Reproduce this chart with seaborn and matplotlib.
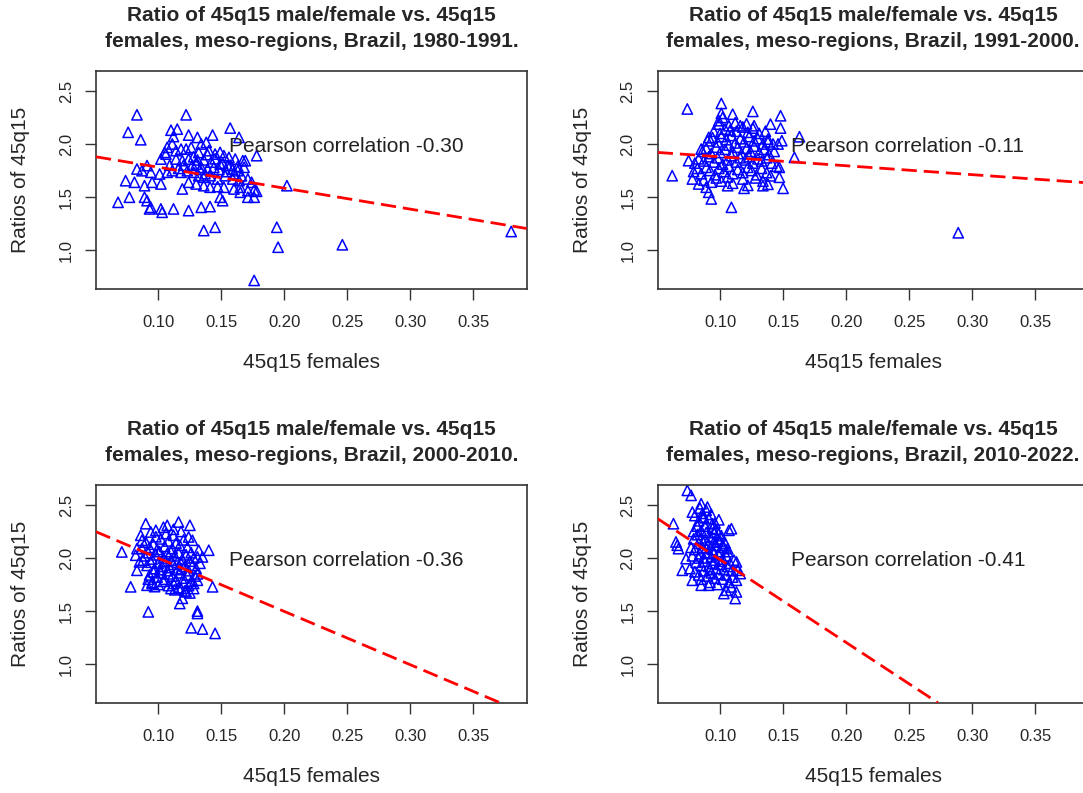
import matplotlib
matplotlib.use("Agg")
import matplotlib.pyplot as plt
import seaborn as sns
import pandas as pd

# 45q15 of females (x) and ratio of 45q15 male/female (y), one point per meso-region
x_1980 = [0.083, 0.122, 0.076, 0.086, 0.157, 0.110, 0.115, 0.112, 0.124, 0.143, 0.164, 0.131, 0.178,
          0.107, 0.111, 0.105, 0.106, 0.102, 0.114, 0.118, 0.122, 0.126, 0.134, 0.138, 0.140, 0.145, 0.149, 0.152, 0.156, 0.161, 0.167, 0.169,
          0.114, 0.119, 0.124, 0.130, 0.134, 0.139, 0.144, 0.149, 0.155, 0.159, 0.163, 0.168,
          0.083, 0.087, 0.091, 0.094, 0.101, 0.107, 0.111, 0.118, 0.123, 0.128, 0.132, 0.136, 0.141, 0.147, 0.153, 0.159, 0.164, 0.171, 0.174,
          0.074, 0.081, 0.089, 0.095, 0.102, 0.119, 0.124, 0.130, 0.136, 0.141, 0.147, 0.152, 0.160, 0.165, 0.171, 0.176, 0.178,
          0.068, 0.077, 0.089, 0.091, 0.094, 0.093, 0.102, 0.103, 0.112, 0.124, 0.134, 0.141, 0.149, 0.151, 0.165, 0.171, 0.176,
          0.136, 0.145, 0.194, 0.195, 0.176, 0.202, 0.246, 0.380,
          0.128, 0.132, 0.136, 0.139, 0.142, 0.145, 0.148, 0.151, 0.154, 0.157, 0.133, 0.137, 0.160, 0.163, 0.166, 0.131, 0.127, 0.120, 0.116, 0.109]
y_1980 = [2.275, 2.275, 2.110, 2.040, 2.150, 2.130, 2.140, 2.070, 2.084, 2.084, 2.062, 2.062, 1.890,
          1.968, 2.000, 1.921, 1.905, 1.858, 1.937, 1.952, 1.952, 1.968, 2.000, 2.015, 1.937, 1.905, 1.921, 1.890, 1.874, 1.858, 1.843, 1.843,
          1.858, 1.843, 1.858, 1.811, 1.780, 1.764, 1.780, 1.811, 1.796, 1.764, 1.748, 1.780,
          1.764, 1.748, 1.796, 1.733, 1.717, 1.733, 1.748, 1.733, 1.748, 1.733, 1.701, 1.686, 1.701, 1.670, 1.701, 1.670, 1.654, 1.670, 1.639,
          1.654, 1.639, 1.607, 1.639, 1.623, 1.576, 1.639, 1.623, 1.607, 1.592, 1.598, 1.592, 1.576, 1.592, 1.560, 1.567, 1.554,
          1.450, 1.498, 1.498, 1.466, 1.403, 1.388, 1.388, 1.356, 1.388, 1.372, 1.403, 1.410, 1.498, 1.466, 1.545, 1.498, 1.498,
          1.184, 1.215, 1.215, 1.027, 0.714, 1.607, 1.050, 1.175,
          1.880, 1.920, 1.850, 1.900, 1.830, 1.860, 1.760, 1.820, 1.740, 1.800, 1.760, 1.720, 1.720, 1.790, 1.700, 1.850, 1.800, 1.800, 1.770, 1.800]

x_1991 = [0.074, 0.101, 0.101, 0.110, 0.126, 0.148, 0.140, 0.148, 0.149, 0.163, 0.159, 0.062, 0.075, 0.085, 0.091, 0.099,
          0.107, 0.116, 0.127, 0.138, 0.147, 0.147, 0.150, 0.134, 0.119, 0.106, 0.093, 0.091, 0.109, 0.078, 0.083, 0.089,
          0.095, 0.100, 0.104, 0.108, 0.113, 0.118, 0.122, 0.126, 0.131, 0.136, 0.099, 0.102, 0.112, 0.121,
          0.090, 0.094, 0.098, 0.101, 0.105, 0.109, 0.112, 0.116, 0.119, 0.123, 0.127, 0.130, 0.134, 0.138, 0.142, 0.146,
          0.086, 0.089, 0.093, 0.097, 0.100, 0.104, 0.107, 0.110, 0.114, 0.117, 0.121, 0.124, 0.127, 0.131, 0.135, 0.139, 0.143,
          0.080, 0.083, 0.087, 0.091, 0.095, 0.098, 0.102, 0.106, 0.109, 0.113, 0.116, 0.120, 0.123, 0.126, 0.130, 0.133, 0.137, 0.141, 0.145,
          0.079, 0.082, 0.085, 0.089, 0.092, 0.096, 0.099, 0.103, 0.107, 0.110, 0.114, 0.118, 0.122, 0.125, 0.129, 0.133, 0.137, 0.140,
          0.087, 0.093, 0.097, 0.101, 0.106, 0.110, 0.118, 0.122, 0.128, 0.134, 0.138,
          0.289]
y_1991 = [2.330, 2.382, 2.288, 2.281, 2.307, 2.266, 2.187, 2.150, 2.031, 2.068, 1.874, 1.701, 1.843, 1.952, 2.062, 2.187,
          2.172, 2.172, 2.172, 2.046, 1.780, 1.686, 1.582, 1.607, 1.582, 1.607, 1.482, 1.545, 1.403, 1.670, 1.623, 1.592,
          2.120, 2.100, 2.140, 2.130, 2.120, 2.160, 2.110, 2.150, 2.100, 2.120, 2.220, 2.250, 2.200, 2.190,
          2.030, 2.060, 2.020, 2.070, 2.040, 2.080, 2.010, 2.050, 2.020, 2.070, 2.030, 2.050, 2.000, 2.020, 2.000, 2.000,
          1.930, 1.960, 1.910, 1.970, 1.920, 1.950, 1.990, 1.930, 1.970, 1.910, 1.960, 1.930, 1.980, 1.920, 1.950, 1.900, 1.930,
          1.820, 1.860, 1.840, 1.880, 1.830, 1.870, 1.810, 1.850, 1.890, 1.830, 1.870, 1.850, 1.880, 1.820, 1.860, 1.840, 1.870, 1.820, 1.790,
          1.740, 1.770, 1.720, 1.780, 1.750, 1.710, 1.770, 1.740, 1.790, 1.720, 1.760, 1.730, 1.780, 1.750, 1.710, 1.770, 1.730, 1.700,
          1.660, 1.640, 1.680, 1.650, 1.690, 1.630, 1.670, 1.610, 1.680, 1.650, 1.620,
          1.163]

x_2000 = [0.071, 0.078, 0.092, 0.116, 0.107, 0.125, 0.090, 0.098, 0.112, 0.124, 0.127, 0.140, 0.132, 0.135, 0.131, 0.143, 0.131, 0.128,
          0.117, 0.131, 0.131, 0.126, 0.135, 0.145, 0.122, 0.118, 0.110, 0.095, 0.091, 0.083, 0.085, 0.087, 0.086, 0.094, 0.083, 0.082,
          0.090, 0.093, 0.096, 0.099, 0.102, 0.105, 0.108, 0.111, 0.114, 0.117, 0.120, 0.123, 0.126,
          0.089, 0.092, 0.095, 0.098, 0.101, 0.104, 0.107, 0.110, 0.113, 0.116, 0.119, 0.122, 0.125, 0.128,
          0.091, 0.094, 0.097, 0.100, 0.103, 0.106, 0.109, 0.112, 0.115, 0.118, 0.121, 0.124, 0.127, 0.130,
          0.093, 0.096, 0.099, 0.102, 0.105, 0.108, 0.111, 0.114, 0.117, 0.120, 0.123, 0.126, 0.129,
          0.095, 0.100, 0.104, 0.108, 0.112, 0.116, 0.120, 0.124, 0.128,
          0.098, 0.106, 0.112, 0.104, 0.118,
          0.092, 0.097, 0.113, 0.121, 0.125, 0.119, 0.131, 0.133, 0.088, 0.087, 0.101, 0.110, 0.115, 0.107, 0.118]
y_2000 = [2.057, 1.728, 1.492, 2.339, 2.308, 2.308, 2.323, 2.261, 2.214, 2.198, 2.167, 2.073, 2.073, 2.010, 2.010, 1.728, 1.790, 1.712,
          1.571, 1.477, 1.499, 1.342, 1.330, 1.289, 1.681, 1.712, 1.712, 1.759, 1.743, 1.884, 1.963, 2.167, 2.214, 2.245, 2.088, 2.026,
          2.150, 2.100, 2.130, 2.080, 2.180, 2.110, 2.160, 2.090, 2.140, 2.120, 2.170, 2.100, 2.050,
          2.020, 2.050, 1.990, 2.030, 2.060, 2.000, 2.040, 1.980, 2.020, 2.050, 1.990, 2.030, 1.970, 2.000,
          1.930, 1.960, 1.900, 1.950, 1.920, 1.970, 1.910, 1.940, 1.890, 1.950, 1.920, 1.880, 1.930, 1.900,
          1.840, 1.870, 1.820, 1.860, 1.800, 1.850, 1.830, 1.790, 1.860, 1.810, 1.840, 1.780, 1.830,
          1.770, 1.750, 1.780, 1.740, 1.760, 1.720, 1.770, 1.740, 1.760,
          2.200, 2.230, 2.270, 2.290, 2.250,
          1.800, 1.730, 1.700, 1.690, 1.670, 1.620, 1.850, 1.950, 1.980, 2.090, 1.890, 2.060, 1.960, 1.880, 1.900]

x_2010 = [0.074, 0.077, 0.063, 0.065, 0.067, 0.066, 0.107, 0.109, 0.106, 0.113, 0.114, 0.113, 0.112, 0.109, 0.105, 0.103,
          0.091, 0.085, 0.078, 0.070, 0.073, 0.085, 0.090, 0.078, 0.086, 0.094, 0.099, 0.102, 0.116,
          0.080, 0.083, 0.086, 0.088, 0.091, 0.094, 0.096, 0.085, 0.082, 0.089, 0.092, 0.095, 0.098, 0.101, 0.079, 0.083,
          0.086, 0.088, 0.091, 0.094, 0.097, 0.100, 0.103, 0.080, 0.084, 0.087, 0.090, 0.093, 0.096, 0.099, 0.102, 0.105,
          0.108, 0.078, 0.081, 0.085, 0.088, 0.091, 0.094, 0.097, 0.100, 0.103, 0.106, 0.109, 0.076, 0.080, 0.083, 0.087,
          0.090, 0.093, 0.096, 0.099, 0.102, 0.105, 0.110, 0.113, 0.085, 0.092, 0.098, 0.107, 0.089, 0.087, 0.093, 0.082,
          0.097, 0.099, 0.084, 0.095, 0.085, 0.104, 0.106, 0.111, 0.077, 0.079, 0.101, 0.092, 0.095, 0.089, 0.100, 0.083]
y_2010 = [2.637, 2.590, 2.323, 2.151, 2.088, 2.120, 2.261, 2.276, 2.088, 1.963, 1.884, 1.680, 1.618, 1.727, 1.696, 1.665,
          1.743, 1.743, 1.790, 1.884, 1.994, 2.511, 2.480, 2.433, 2.386, 2.323, 2.229, 2.120, 1.853,
          2.400, 2.350, 2.420, 2.300, 2.370, 2.280, 2.330, 2.260, 2.220, 2.240, 2.200, 2.240, 2.180, 2.210, 2.180, 2.140,
          2.100, 2.170, 2.130, 2.080, 2.120, 2.060, 2.100, 2.080, 2.040, 2.000, 2.050, 2.010, 1.980, 2.030, 1.990, 2.020,
          1.950, 2.020, 1.960, 1.930, 1.970, 1.920, 1.950, 1.900, 1.940, 1.890, 1.920, 1.880, 1.900, 1.870, 1.840, 1.880,
          1.830, 1.860, 1.810, 1.850, 1.800, 1.840, 1.820, 1.790, 1.800, 1.770, 1.750, 1.770, 2.450, 2.380, 2.410, 2.300,
          2.270, 2.360, 2.470, 2.150, 2.190, 2.140, 2.060, 1.980, 2.100, 2.250, 1.970, 1.890, 2.040, 2.090, 2.160, 2.000]

periods = ["1980-1991", "1991-2000", "2000-2010", "2010-2022"]
pearson_r = ["-0.30", "-0.11", "-0.36", "-0.41"]
# fitted regression lines (intercept, slope)
intercepts = [1.979, 1.963, 2.501, 2.764]
slopes = [-1.977, -0.840, -5.025, -7.80]

xticks = [0.10, 0.15, 0.20, 0.25, 0.30, 0.35]
xtick_labels = ["0.10", "0.15", "0.20", "0.25", "0.30", "0.35"]
yticks = [1.0, 1.5, 2.0, 2.5]
ytick_labels = ["1.0", "1.5", "2.0", "2.5"]

xs = [x_1980, x_1991, x_2000, x_2010]
ys = [y_1980, y_1991, y_2000, y_2010]

sns.set_style("ticks")
plt.rcParams["font.family"] = ["Liberation Sans", "DejaVu Sans"]

W, H = 1083, 793
fig = plt.figure(figsize=(W / 100, H / 100), dpi=100)

# panel boxes in pixels (left, top); right column runs off the image edge
box_w, box_h = 430.7, 217.7
corners = [(96, 71), (657.7, 71), (96, 485), (657.7, 485)]

for i, (left, top) in enumerate(corners):
    ax = fig.add_axes([left / W, 1 - (top + box_h) / H, box_w / W, box_h / H])
    df = pd.DataFrame({"x": xs[i], "y": ys[i]})
    sns.scatterplot(data=df, x="x", y="y", marker="^", s=55, color="blue",
                    facecolors="none", edgecolor="blue", linewidth=1.1, ax=ax, zorder=2)
    ax.axline((0, intercepts[i]), slope=slopes[i], color="red", lw=2.0,
              linestyle=(0, (5.5, 2.5)), zorder=3)
    ax.set_xlim(0.0505, 0.3923)
    ax.set_ylim(0.636, 2.688)
    ax.set_xticks(xticks, xtick_labels)
    ax.set_yticks(yticks, ytick_labels)
    ax.tick_params(direction="out", length=8, width=1, labelsize=12, color="#333333")
    ax.tick_params(axis="x", pad=11)
    ax.tick_params(axis="y", labelrotation=90, pad=8)
    for lab in ax.get_yticklabels():
        lab.set_va("center")
    for sp in ax.spines.values():
        sp.set_color("#333333")
        sp.set_linewidth(1.2)

    ax.set_xlabel("45q15 females", fontsize=15)
    ax.set_ylabel("Ratios of 45q15", fontsize=15)
    ax.xaxis.label.set_va("center")
    ax.yaxis.label.set_va("center")
    ax.xaxis.set_label_coords(0.5, -(362 - 288.7) / box_h)
    ax.yaxis.set_label_coords((20.5 - 96) / box_w, 0.5)

    ax.text(0.249, 1.975, f"Pearson correlation {pearson_r[i]}", ha="center", va="center",
            fontsize=15, color="#222222", zorder=4)
    ax.text(0.5, 1 + 42.5 / box_h,
            f"Ratio of 45q15 male/female vs. 45q15\nfemales, meso-regions, Brazil, {periods[i]}.",
            transform=ax.transAxes, ha="center", va="center", fontsize=15,
            fontweight="bold", linespacing=1.45)

fig.savefig("out.png", dpi=100)
